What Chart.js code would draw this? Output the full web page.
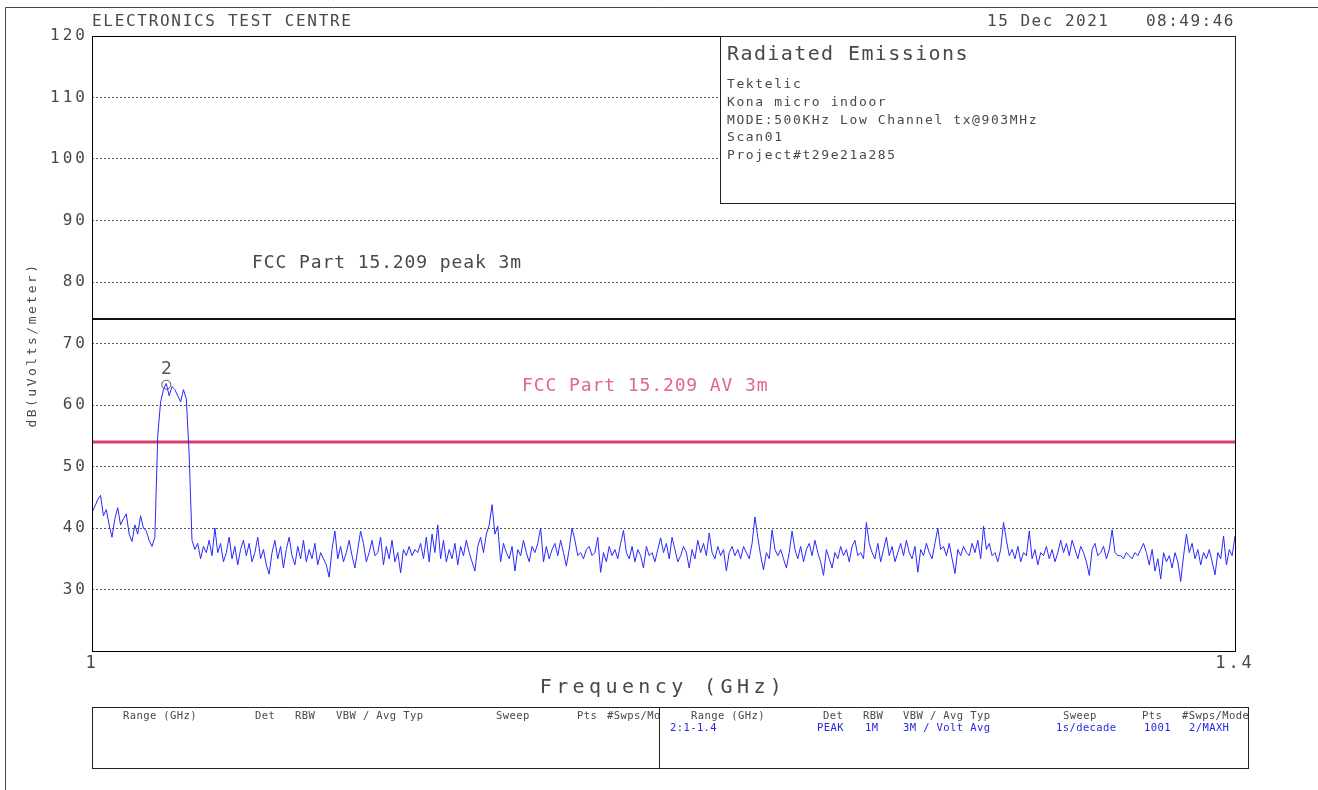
<!DOCTYPE html>
<html lang="en">
<head>
  <meta charset="UTF-8">
  <title>Radiated Emissions 1 - 1.4 GHz</title>
  <script src="https://cdn.jsdelivr.net/npm/chart.js"></script>
  <style>
    body { margin: 0; background: #fff; }
    canvas { display: block; }
  </style>
</head>
<body>
  <canvas id="scan" width="1318" height="790"></canvas>

  <script>
    // sweep: 1 - 1.4 GHz, trace at 1 MHz steps (dBuV/m)
    const sweepStartGHz = 1.0;
    const sweepStepGHz = 0.001;
    const level = [
      42.5, 43.5, 44.6, 45.3, 42.0, 43.0, 40.5, 38.5, 41.5, 43.3, 40.5, 41.5, 42.3, 39.0, 37.8, 40.5, 39.0, 42.0, 40.0, 39.5,
      38.0, 37.0, 38.5, 55.0, 60.5, 62.5, 63.5, 61.5, 63.0, 62.5, 61.5, 60.5, 62.5, 61.0, 52.0, 38.0, 36.5, 37.5, 35.0, 37.0,
      36.0, 38.0, 35.5, 40.0, 36.0, 37.5, 34.5, 36.0, 38.5, 35.0, 37.0, 34.0, 36.5, 38.0, 35.5, 37.5, 34.5, 36.0, 38.5, 35.0,
      36.5, 34.0, 32.5, 36.0, 38.0, 35.0, 37.0, 33.5, 36.5, 38.5, 35.5, 34.0, 37.0, 35.0, 38.0, 34.5, 36.5, 35.0, 37.5, 34.0,
      36.0, 35.0, 34.0, 32.0, 36.5, 39.5, 35.0, 37.0, 34.5, 36.0, 38.0, 35.5, 33.5, 36.5, 39.5, 37.5, 34.5, 36.0, 38.0, 35.5,
      36.0, 38.5, 34.0, 37.0, 35.0, 38.0, 34.5, 36.0, 32.7, 36.5, 35.5, 37.0, 35.5, 36.5, 36.0, 37.5, 35.0, 38.5, 34.5, 39.0,
      36.0, 40.5, 35.0, 38.0, 34.5, 36.5, 35.0, 37.5, 34.0, 37.0, 35.5, 38.0, 36.0, 34.5, 33.0, 37.0, 38.5, 36.0, 39.0, 40.5,
      43.8, 39.0, 40.3, 34.5, 37.5, 36.0, 35.0, 37.0, 33.0, 36.5, 35.5, 38.0, 36.0, 34.5, 37.0, 36.0, 37.5, 40.0, 34.5, 37.0,
      35.0, 36.5, 37.5, 35.5, 38.0, 36.0, 33.8, 36.5, 40.0, 38.0, 35.5, 36.0, 35.0, 36.5, 37.0, 35.5, 36.0, 38.5, 32.8, 36.0,
      34.5, 37.0, 35.5, 36.5, 35.0, 37.5, 39.6, 36.0, 35.0, 37.0, 34.5, 36.5, 35.5, 33.5, 37.0, 35.5, 36.0, 34.5, 36.5, 38.4,
      36.0, 37.5, 35.0, 38.5, 36.5, 34.5, 35.5, 37.0, 36.0, 33.5, 36.5, 35.0, 38.0, 36.0, 37.5, 35.5, 39.2, 36.0, 35.0, 37.0,
      35.5, 36.5, 33.0, 36.0, 37.0, 35.5, 36.5, 35.0, 37.0, 36.0, 35.0, 37.5, 41.8, 38.5, 35.5, 33.2, 36.0, 35.0, 39.7, 36.5,
      35.5, 36.5, 35.0, 33.5, 36.0, 39.5, 36.5, 35.0, 37.0, 34.5, 36.5, 37.5, 35.5, 38.0, 36.0, 34.5, 32.3, 36.5, 35.0, 33.5,
      36.0, 35.0, 37.0, 35.5, 36.5, 34.5, 37.0, 38.0, 35.5, 36.0, 35.0, 40.9, 37.5, 36.0, 35.0, 37.5, 34.5, 36.5, 38.5, 35.5,
      37.0, 34.5, 36.0, 37.5, 35.5, 38.0, 36.0, 35.0, 37.0, 32.8, 36.5, 35.5, 37.5, 36.0, 35.0, 37.5, 40.0, 36.5, 37.0, 35.5,
      37.5, 35.0, 32.6, 36.5, 35.5, 37.0, 36.0, 35.5, 37.5, 36.0, 38.0, 35.0, 40.3, 36.5, 37.5, 35.5, 36.0, 34.5, 36.5, 40.9,
      38.0, 35.5, 36.5, 35.0, 37.0, 34.5, 36.0, 35.5, 39.5, 35.0, 36.5, 34.0, 36.0, 35.5, 37.0, 35.0, 36.5, 34.5, 36.0, 38.0,
      36.0, 37.5, 35.5, 38.0, 36.5, 35.0, 37.0, 36.0, 34.5, 32.3, 36.5, 37.5, 35.5, 36.0, 37.0, 35.0, 36.5, 39.7, 36.0, 35.5,
      35.5, 35.0, 36.0, 35.5, 35.0, 36.0, 35.5, 36.5, 37.5, 36.0, 34.0, 36.5, 33.0, 35.0, 31.7, 36.0, 34.5, 35.5, 33.5, 36.0,
      34.5, 31.3, 35.5, 39.0, 36.0, 37.5, 35.0, 36.5, 34.0, 36.0, 35.0, 36.5, 34.5, 32.4, 36.0, 35.0, 38.7, 34.0, 36.5, 35.5, 38.7
    ];

    // limit lines
    const limitFreq = [1.0, 1.4];
    const peakLimit = [74, 74];
    const avLimit = [54, 54];

    // marker 2
    const markerFreq = [1.026];
    const markerLevel = [63.3];
    const markerLabel = ['2'];

    // axes
    const yTicks = [20, 30, 40, 50, 60, 70, 80, 90, 100, 110, 120];
    const xTicks = [1, 1.4];
    const xTickLabels = ['1', '1.4'];

    const infoLines = [
      'Tektelic',
      'Kona micro indoor',
      'MODE:500KHz Low Channel tx@903MHz',
      'Scan01',
      'Project#t29e21a285'
    ];
    const tableHead = ['Range (GHz)', 'Det', 'RBW', 'VBW / Avg Typ', 'Sweep', 'Pts', '#Swps/Mode'];
    const tableRow = ['2:1-1.4', 'PEAK', '1M', '3M / Volt Avg', '1s/decade', '1001', '2/MAXH'];

    const FONT = '"DejaVu Sans Mono", monospace';
    const INK = '#484848';
    const trace = level.map((v, i) => ({ x: sweepStartGHz + i * sweepStepGHz, y: v }));
    const pairs = (xs, ys) => xs.map((x, i) => ({ x: x, y: ys[i] }));

    function txt(ctx, s, x, y, size, spacing, color, align) {
      ctx.font = size + 'px ' + FONT;
      ctx.letterSpacing = spacing + 'px';
      ctx.fillStyle = color;
      ctx.textAlign = align || 'left';
      ctx.textBaseline = 'middle';
      ctx.fillText(s, x, y);
    }

    const decor = {
      id: 'decor',
      beforeDraw(chart) {
        chart.ctx.letterSpacing = '3px';
      },
      afterDraw(chart) {
        const ctx = chart.ctx;
        const a = chart.chartArea;
        const xs = chart.scales.x, ys = chart.scales.y;
        ctx.save();

        // page frame
        ctx.strokeStyle = '#444';
        ctx.lineWidth = 1;
        ctx.beginPath();
        ctx.moveTo(5.5, 790); ctx.lineTo(5.5, 7.5); ctx.lineTo(1318, 7.5);
        ctx.stroke();

        // plot border
        ctx.strokeStyle = '#000';
        ctx.strokeRect(Math.round(a.left) + 0.5, Math.round(a.top) + 0.5,
          Math.round(a.right - a.left), Math.round(a.bottom - a.top));

        // header
        txt(ctx, 'ELECTRONICS TEST CENTRE', 92, 22, 16, 1.7, INK);
        txt(ctx, '15 Dec 2021', 987, 22, 16, 1.5, INK);
        txt(ctx, '08:49:46', 1235, 22, 16, 1.5, INK, 'right');

        // info box
        const bx = 720, by = Math.round(a.top);
        ctx.fillStyle = '#fff';
        ctx.fillRect(bx, by + 1, Math.round(a.right) - bx, 167);
        ctx.strokeStyle = '#222';
        ctx.strokeRect(bx + 0.5, by + 0.5, Math.round(a.right) - bx, 167);
        txt(ctx, 'Radiated Emissions', 727, 55, 20, 1.4, INK);
        infoLines.forEach((s, i) => txt(ctx, s, 727, 85 + i * 17.6, 13, 1.6, INK));

        // limit labels
        txt(ctx, 'FCC Part 15.209 peak 3m', xs.getPixelForValue(1.056), ys.getPixelForValue(83), 18, 0.9, INK);
        txt(ctx, 'FCC Part 15.209 AV 3m', xs.getPixelForValue(1.1505), ys.getPixelForValue(63.1), 18, 0.9, '#e0668c');

        // marker label
        markerLabel.forEach((s, i) => {
          txt(ctx, s, xs.getPixelForValue(markerFreq[i]), ys.getPixelForValue(markerLevel[i]) - 15, 18, 0, '#555', 'center');
        });

        // axis titles
        txt(ctx, 'Frequency (GHz)', 663, 688, 20, 4.4, INK, 'center');
        ctx.save();
        ctx.translate(33, 345);
        ctx.rotate(-Math.PI / 2);
        txt(ctx, 'dB(uVolts/meter)', 0, 0, 13, 2.5, INK, 'center');
        ctx.restore();

        // settings table
        ctx.strokeStyle = '#222';
        ctx.strokeRect(92.5, 707.5, 1156, 61);
        ctx.beginPath();
        ctx.moveTo(659.5, 707); ctx.lineTo(659.5, 768);
        ctx.stroke();
        const leftCols = [123, 255, 295, 336, 496, 577, 607];
        const rightCols = [691, 823, 863, 903, 1063, 1142, 1182];
        const rowCols = [670, 817, 865, 903, 1056, 1144, 1189];
        ctx.save();
        ctx.beginPath();
        ctx.rect(93, 708, 566, 60);
        ctx.clip();
        tableHead.forEach((s, i) => txt(ctx, s, leftCols[i], 716, 10.5, 0.4, INK));
        ctx.restore();
        tableHead.forEach((s, i) => txt(ctx, s, rightCols[i], 716, 10.5, 0.4, INK));
        tableRow.forEach((s, i) => txt(ctx, s, rowCols[i], 728, 10.5, 0.4, '#2626e6'));

        ctx.restore();
      }
    };

    new Chart(document.getElementById('scan'), {
      type: 'line',
      data: {
        datasets: [
          {
            label: 'marker',
            data: pairs(markerFreq, markerLevel),
            showLine: false,
            pointStyle: 'circle',
            pointRadius: 4.5,
            borderColor: '#555',
            borderWidth: 1,
            backgroundColor: 'rgba(0,0,0,0)'
          },
          {
            label: 'Scan01',
            data: trace,
            borderColor: 'rgb(40,40,255)',
            borderWidth: 1,
            pointRadius: 0,
            tension: 0
          },
          {
            label: 'FCC Part 15.209 peak 3m',
            data: pairs(limitFreq, peakLimit),
            borderColor: '#111',
            borderWidth: 2,
            pointRadius: 0
          },
          {
            label: 'FCC Part 15.209 AV 3m',
            data: pairs(limitFreq, avLimit),
            borderColor: '#d6406a',
            borderWidth: 3,
            pointRadius: 0
          }
        ]
      },
      options: {
        responsive: false,
        animation: false,
        layout: { padding: { top: 36, right: 83, bottom: 109, left: 0 } },
        plugins: { legend: { display: false }, tooltip: { enabled: false } },
        scales: {
          x: {
            type: 'linear',
            min: 1,
            max: 1.4,
            afterBuildTicks: s => { s.ticks = xTicks.map(v => ({ value: v })); },
            afterFit: s => { s.height = 30; },
            grid: { display: false, drawTicks: false },
            border: { display: false },
            ticks: {
              padding: 2,
              maxRotation: 0,
              color: INK,
              font: { family: FONT, size: 17 },
              callback: (v) => xTickLabels[xTicks.indexOf(v)]
            }
          },
          y: {
            min: 20,
            max: 120,
            afterBuildTicks: s => { s.ticks = yTicks.map(v => ({ value: v })); },
            afterFit: s => { s.width = 92; },
            grid: {
              drawTicks: false,
              color: c => (c.tick.value > 20 && c.tick.value < 120) ? '#555' : 'rgba(0,0,0,0)',
              lineWidth: 1
            },
            border: { display: false, dash: [2, 2] },
            ticks: {
              padding: 4,
              color: INK,
              font: { family: FONT, size: 16 },
              callback: v => v === 20 ? '' : String(v)
            }
          }
        }
      },
      plugins: [decor]
    });
  </script>
</body>
</html>
